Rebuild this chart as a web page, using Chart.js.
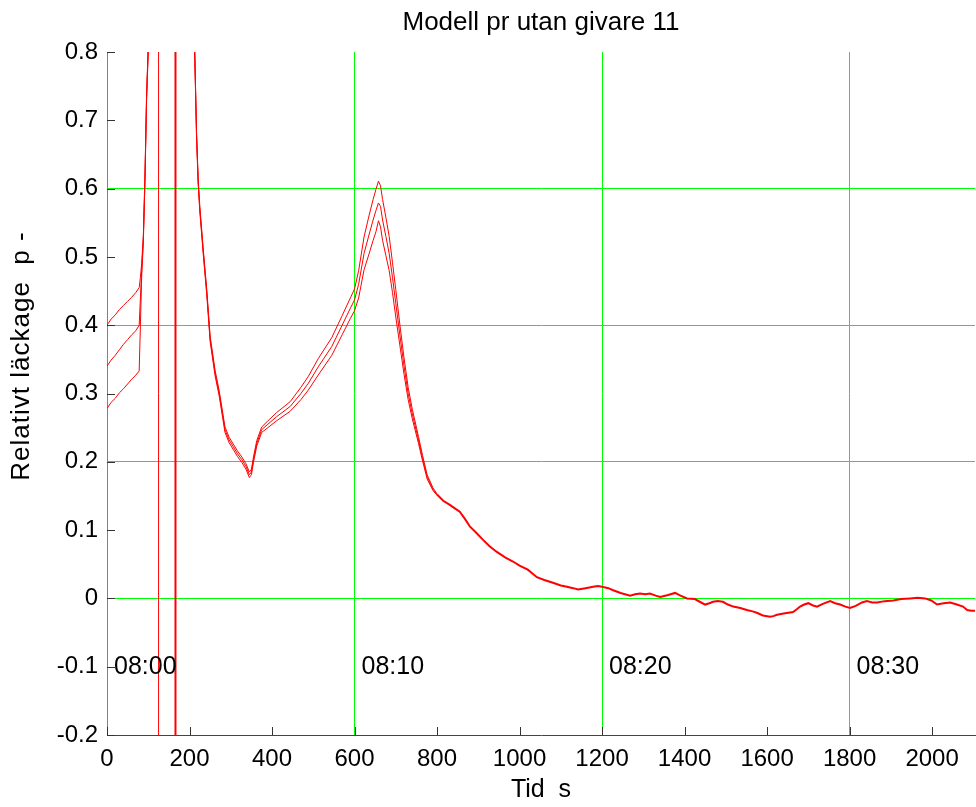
<!DOCTYPE html>
<html>
<head>
<meta charset="utf-8">
<title>Modell pr utan givare 11</title>
<script src="https://cdn.jsdelivr.net/npm/chart.js@4.4.0/dist/chart.umd.min.js"></script>
<style>
    html, body { margin: 0; padding: 0; background: #fff; }
    #wrap { width: 976px; height: 807px; }
</style>
</head>
<body>
<div id="wrap"><canvas id="leakChart" width="976" height="807"></canvas></div>
<script>
// Tid (s) for the three model runs up to 800 s
const headTimes = [0, 10, 20, 30, 40, 50, 60, 70, 78, 81, 84, 88, 92, 96, 100, 106, 160, 206,
    213, 217, 221, 225, 229, 233, 242, 250, 262, 272, 286, 296, 306, 316, 327, 337, 345, 350, 355, 363, 375,
    390, 411, 444, 470, 488, 512, 545, 570, 590, 600, 610, 623, 635, 645, 652, 658, 663, 668, 676, 684, 692,
    700, 710, 720, 730, 740, 755, 765, 776, 790, 800];

const upperLeak = [0.400, 0.409, 0.415, 0.423, 0.429, 0.435, 0.441, 0.448, 0.455,
    0.470, 0.490, 0.530, 0.620, 0.740, 0.810, 0.960, 2.0, 0.96,
    0.794, 0.684, 0.614, 0.574, 0.544, 0.514, 0.451, 0.384, 0.334, 0.304, 0.251, 0.236, 0.226, 0.216, 0.207, 0.197, 0.185, 0.189, 0.207, 0.231, 0.251,
    0.260, 0.272, 0.288, 0.309, 0.325, 0.351, 0.382, 0.414, 0.440, 0.453, 0.480, 0.529, 0.560, 0.584, 0.599, 0.611, 0.604, 0.584, 0.558, 0.530, 0.492,
    0.452, 0.400, 0.352, 0.309, 0.277, 0.237, 0.209, 0.181, 0.162, 0.153];

const middleLeak = [0.340, 0.349, 0.356, 0.364, 0.372, 0.379, 0.386, 0.392, 0.400,
    0.440, 0.480, 0.525, 0.615, 0.735, 0.805, 0.950, 2.0, 0.95,
    0.790, 0.680, 0.610, 0.570, 0.540, 0.510, 0.447, 0.380, 0.330, 0.300, 0.247, 0.232, 0.222, 0.212, 0.203, 0.193, 0.181, 0.185, 0.203, 0.227, 0.247,
    0.255, 0.266, 0.281, 0.300, 0.315, 0.339, 0.369, 0.400, 0.425, 0.437, 0.460, 0.505, 0.532, 0.554, 0.568, 0.579, 0.574, 0.554, 0.530, 0.505, 0.470,
    0.432, 0.385, 0.340, 0.300, 0.270, 0.232, 0.205, 0.178, 0.160, 0.152];

const lowerLeak = [0.278, 0.287, 0.293, 0.301, 0.307, 0.314, 0.321, 0.327, 0.333,
    0.400, 0.470, 0.520, 0.610, 0.730, 0.800, 0.940, 2.0, 0.94,
    0.786, 0.676, 0.606, 0.566, 0.536, 0.506, 0.443, 0.376, 0.326, 0.296, 0.243, 0.228, 0.218, 0.208, 0.199, 0.189, 0.177, 0.181, 0.199, 0.223, 0.243,
    0.250, 0.260, 0.274, 0.291, 0.305, 0.327, 0.356, 0.386, 0.410, 0.421, 0.440, 0.481, 0.504, 0.524, 0.537, 0.553, 0.544, 0.524, 0.502, 0.480, 0.448,
    0.412, 0.370, 0.328, 0.291, 0.263, 0.227, 0.201, 0.175, 0.158, 0.151];

// after 800 s the three runs lie on top of each other
const tailTimes = [800, 815, 831, 845, 855, 868, 880, 895, 911, 928,
    945, 965, 984, 1000, 1020, 1042, 1060, 1081, 1100, 1115,
    1130, 1142, 1160, 1178, 1190, 1200, 1215, 1227, 1245, 1268,
    1280, 1292, 1305, 1316, 1330, 1341, 1360, 1377, 1390, 1406,
    1425, 1440, 1450, 1460, 1469, 1480, 1493, 1505, 1518, 1535,
    1551, 1565, 1575, 1590, 1607, 1615, 1624, 1640, 1663, 1672,
    1680, 1690, 1700, 1710, 1721, 1735, 1753, 1765, 1777, 1790,
    1801, 1815, 1830, 1842, 1855, 1867, 1885, 1906, 1925, 1947,
    1965, 1983, 1998, 2012, 2028, 2044, 2060, 2075, 2085, 2095, 2104];

const tailLeak = [0.152, 0.143, 0.137, 0.131, 0.127, 0.116, 0.105, 0.096, 0.086, 0.076,
    0.068, 0.060, 0.054, 0.048, 0.042, 0.031, 0.027, 0.023, 0.019, 0.017,
    0.015, 0.013, 0.015, 0.017, 0.018, 0.017, 0.015, 0.012, 0.008, 0.004,
    0.006, 0.007, 0.006, 0.007, 0.004, 0.002, 0.005, 0.008, 0.004, 0.000,
    -0.001, -0.006, -0.009, -0.007, -0.005, -0.004, -0.005, -0.009, -0.012, -0.014,
    -0.017, -0.019, -0.021, -0.025, -0.027, -0.026, -0.024, -0.022, -0.020, -0.016,
    -0.012, -0.009, -0.007, -0.010, -0.012, -0.008, -0.004, -0.007, -0.009, -0.012,
    -0.014, -0.011, -0.006, -0.004, -0.006, -0.006, -0.004, -0.003, -0.001, 0.000,
    0.001, 0.000, -0.003, -0.009, -0.007, -0.006, -0.009, -0.012, -0.017, -0.018, -0.018];

// vertical red markers (s)
const markerTimes = [125, 166];
const markerWidths = [1, 2];

// clock labels written inside the plot
const clockTimes = [0, 600, 1200, 1800];
const clockLabels = ['08:00', '08:10', '08:20', '08:30'];
const clockLabelLevel = -0.1;

// axis ranges and green grid positions
const xMax = 2104;
const yMin = -0.2;
const yMax = 0.8;
const gridTimes = [600, 1200, 1800];
const gridLevels = [0, 0.2, 0.4, 0.6];

const titleText = 'Modell pr utan givare 11';
const yTitleText = 'Relativt läckage  p -';

const FONT = "'Liberation Sans', Arial, Helvetica, sans-serif";
const RED = '#ff0000';
const LIME = '#00ff00';

document.addEventListener('DOMContentLoaded', function() {
    Chart.defaults.font.family = FONT;
    Chart.defaults.color = '#000';

    const ctx = document.getElementById('leakChart').getContext('2d');
    new Chart(ctx, {
        type: 'line',
        data: { datasets: buildDatasets() },
        options: getChartOptions(),
        plugins: [axisExtras]
    });
});

function toPoints(xs, ys) {
    return xs.map((x, i) => ({ x: x, y: ys[i] }));
}

function buildDatasets() {
    const runs = [upperLeak, middleLeak, lowerLeak].map(vals => ({
        data: toPoints(headTimes, vals),
        borderColor: RED,
        borderWidth: 1
    }));

    runs.push({
        data: toPoints(tailTimes, tailLeak),
        borderColor: RED,
        borderWidth: 2
    });

    markerTimes.forEach((t, i) => {
        runs.push({
            data: [{ x: t, y: yMin }, { x: t, y: yMax }],
            borderColor: RED,
            borderWidth: markerWidths[i]
        });
    });
    return runs;
}

function isGridLevel(v) {
    return gridLevels.some(g => Math.abs(g - v) < 1e-6);
}

function getChartOptions() {
    return {
        responsive: false,
        animation: false,
        events: [],
        elements: {
            point: { radius: 0 },
            line: { tension: 0, fill: false }
        },
        layout: { padding: { left: 0, right: 1, top: 52, bottom: 0 } },
        plugins: {
            legend: { display: false },
            tooltip: { enabled: false },
            title: { display: false }
        },
        scales: {
            x: {
                type: 'linear',
                min: 0,
                max: xMax,
                afterFit: scale => { scale.height = 72; },
                border: { color: '#444', width: 1 },
                grid: {
                    drawTicks: false,
                    color: c => gridTimes.includes(c.tick && c.tick.value) ? LIME : 'transparent'
                },
                ticks: {
                    stepSize: 200,
                    includeBounds: false,
                    autoSkip: false,
                    maxRotation: 0,
                    padding: 10,
                    font: { size: 24 },
                    callback: v => String(v)
                },
                title: {
                    display: true,
                    text: 'Tid  s',
                    font: { size: 25 },
                    padding: { top: 0, bottom: 2 }
                }
            },
            y: {
                min: yMin,
                max: yMax,
                afterFit: scale => { scale.width = 107; },
                border: { color: '#3cb33c', width: 1 },
                grid: {
                    drawTicks: false,
                    color: c => (c.tick && isGridLevel(c.tick.value)) ? LIME : 'transparent'
                },
                ticks: {
                    stepSize: 0.1,
                    padding: 9,
                    font: { size: 24 },
                    callback: v => String(Math.round(v * 10) / 10)
                },
                title: { display: false }
            }
        }
    };
}

// inward tick marks, titles and clock labels (like the original plot)
const axisExtras = {
    id: 'axisExtras',
    afterDatasetsDraw(chart) {
        const { ctx, chartArea, scales } = chart;
        const x = scales.x;
        const y = scales.y;

        ctx.save();
        ctx.strokeStyle = '#333';
        ctx.lineWidth = 1;
        ctx.beginPath();
        x.ticks.forEach(t => {
            const px = Math.round(x.getPixelForValue(t.value)) + 0.5;
            ctx.moveTo(px, chartArea.bottom);
            ctx.lineTo(px, chartArea.bottom - 8);
        });
        y.ticks.forEach(t => {
            const py = Math.round(y.getPixelForValue(t.value)) + 0.5;
            ctx.moveTo(chartArea.left, py);
            ctx.lineTo(chartArea.left + 8, py);
        });
        ctx.stroke();

        ctx.fillStyle = '#000';
        ctx.font = '25px ' + FONT;
        ctx.textAlign = 'left';
        ctx.textBaseline = 'middle';
        clockTimes.forEach((t, i) => {
            ctx.fillText(clockLabels[i], x.getPixelForValue(t) + 7, y.getPixelForValue(clockLabelLevel));
        });

        // title centred over the plot area
        ctx.font = '26px ' + FONT;
        ctx.textAlign = 'center';
        ctx.fillText(titleText, (chartArea.left + chartArea.right) / 2, 23);

        // y label, a bit wider spaced than the default font
        ctx.translate(22, 356);
        ctx.rotate(-Math.PI / 2);
        ctx.font = '26px ' + FONT;
        if ('letterSpacing' in ctx) ctx.letterSpacing = '1px';
        ctx.fillText(yTitleText, 0, 0);
        ctx.restore();
    }
};
</script>
</body>
</html>
